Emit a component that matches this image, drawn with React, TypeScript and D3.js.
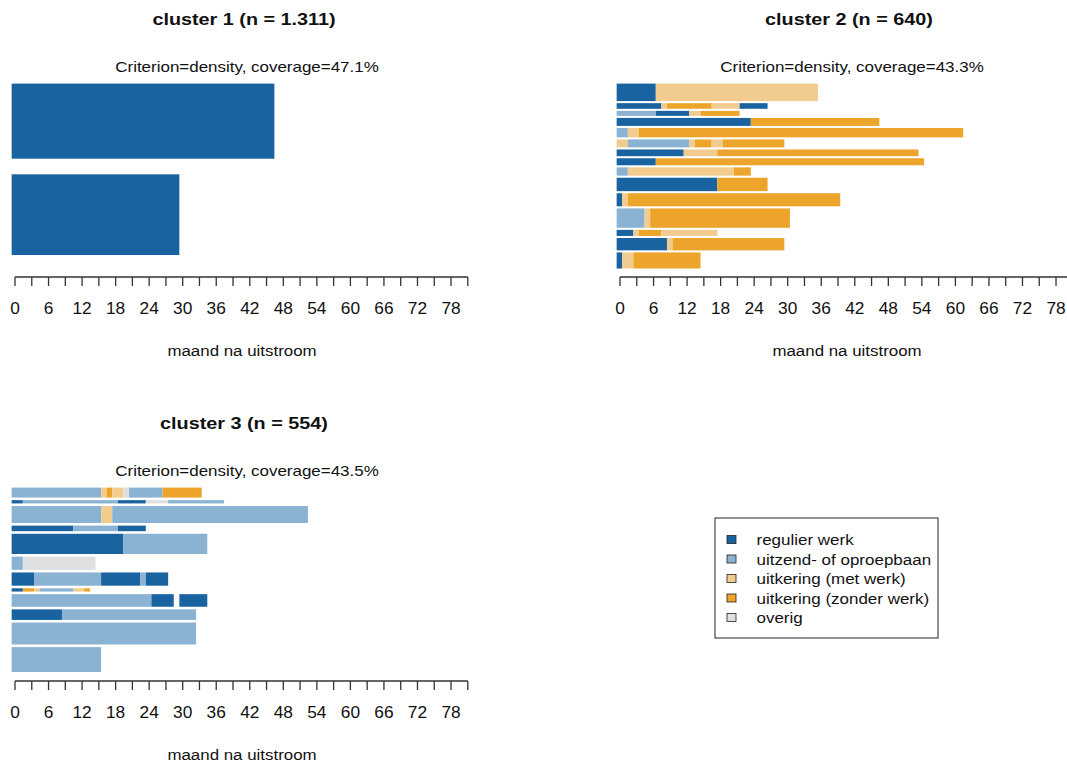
import React from "react";
import * as d3 from "d3";

// States
const states = [
  "regulier werk",
  "uitzend- of oproepbaan",
  "uitkering (met werk)",
  "uitkering (zonder werk)",
  "overig",
];
const stateColors = ["#1A63A1", "#8AB2D3", "#F2CB8F", "#ECA42A", "#DFDFDF"];

// Tick labels (months)
const tickMonths = d3.range(0, 82, 3);
const labelMonths = d3.range(0, 79, 6);

// Representative sequences: [stateIndex, durationMonths] spells (-1 = missing)
// listed top to bottom; weights = share of the cluster represented
const cluster1Seqs: [number, number][][] = [
  [[0, 47]],
  [[0, 30]],
];
const cluster1Weights = [48.2, 51.8];

const cluster2Seqs: [number, number][][] = [
  [[0, 7], [2, 29]],
  [[0, 8], [2, 1], [3, 8], [2, 5], [0, 5]],
  [[1, 7], [0, 6], [2, 2], [3, 7]],
  [[0, 24], [3, 23]],
  [[1, 2], [2, 2], [3, 58]],
  [[2, 2], [1, 11], [2, 1], [3, 3], [2, 2], [3, 11]],
  [[0, 12], [2, 6], [3, 36]],
  [[0, 7], [3, 48]],
  [[1, 2], [2, 19], [3, 3]],
  [[0, 18], [3, 9]],
  [[0, 1], [2, 1], [3, 38]],
  [[1, 5], [2, 1], [3, 25]],
  [[0, 3], [2, 1], [3, 4], [2, 10]],
  [[0, 9], [2, 1], [3, 20]],
  [[0, 1], [2, 2], [3, 12]],
];
const cluster2Weights = [11.2, 3.6, 3.2, 5.1, 6.0, 5.1, 4.3, 4.5, 5.3, 8.6, 8.4, 12.4, 3.9, 7.9, 10.3];

const cluster3Seqs: [number, number][][] = [
  [[1, 16], [2, 1], [3, 1], [2, 2], [4, 1], [1, 6], [3, 7]],
  [[0, 2], [1, 17], [0, 5], [4, 4], [1, 10]],
  [[1, 16], [2, 2], [1, 35]],
  [[0, 11], [1, 8], [0, 5]],
  [[0, 20], [1, 15]],
  [[1, 2], [4, 13]],
  [[0, 4], [1, 12], [0, 7], [1, 1], [0, 4]],
  [[0, 2], [3, 2], [2, 1], [1, 6], [2, 2], [3, 1]],
  [[1, 25], [0, 4], [-1, 1], [0, 5]],
  [[0, 9], [1, 24]],
  [[1, 33]],
  [[1, 16]],
];
const cluster3Weights = [6.4, 2.1, 10.9, 3.6, 13.0, 8.5, 8.5, 2.1, 8.1, 6.8, 14.1, 16.0];

const panels = [
  { title: "cluster 1 (n = 1.311)", sub: "Criterion=density, coverage=47.1%", seqs: cluster1Seqs, weights: cluster1Weights, col: 0, row: 0 },
  { title: "cluster 2 (n = 640)", sub: "Criterion=density, coverage=43.3%", seqs: cluster2Seqs, weights: cluster2Weights, col: 1, row: 0 },
  { title: "cluster 3 (n = 554)", sub: "Criterion=density, coverage=43.5%", seqs: cluster3Seqs, weights: cluster3Weights, col: 0, row: 1 },
];

const FONT = "'Liberation Sans', Arial, Helvetica, sans-serif";

function SText(props: { x: number; y: number; sx: number; size: number; bold?: boolean; anchor?: string; children: React.ReactNode }) {
  const { x, y, sx, size, bold, anchor, children } = props;
  return (
    <text
      transform={`translate(${x},${y}) scale(${sx},1)`}
      fontSize={size}
      fontWeight={bold ? "bold" : "normal"}
      fontFamily={FONT}
      textAnchor={anchor || "middle"}
      fill="#111"
    >
      {children}
    </text>
  );
}

const PX_PER_MONTH = 5.59;
const BAR_OFFSET = 0.6; // tick for month m sits at bar position m + offset

function Panel({ p }: { p: typeof panels[number] }) {
  const ox = p.col * 605;
  const oy = p.row * 404;
  const tick0 = 15 + ox;
  const x = d3.scaleLinear().domain([0, 81]).range([tick0 - BAR_OFFSET * PX_PER_MONTH, tick0 + (81 - BAR_OFFSET) * PX_PER_MONTH]);
  const xt = (m: number) => x(m + BAR_OFFSET);

  const n = p.weights.length;
  const sum = d3.sum(p.weights);
  const space = 0.2 * (sum / n);
  const total = sum + n * space;
  const y = d3.scaleLinear().domain([0, total]).range([270.6 + oy, 83.6 + oy]);

  // bars listed top->bottom; R stacks from bottom
  const bars: { y0: number; y1: number; seq: [number, number][] }[] = [];
  let acc = 0;
  for (let j = n - 1; j >= 0; j--) {
    acc += space;
    const b = acc;
    acc += p.weights[j];
    bars.push({ y0: y(b), y1: y(acc), seq: p.seqs[j] });
  }

  const axisY = 277 + oy;
  const cx = 245 + ox;

  return (
    <g>
      <SText x={cx - 1} y={25 + oy} sx={1.2} size={16.5} bold>{p.title}</SText>
      <SText x={cx + 2} y={72 + oy} sx={1.17} size={14.5}>{p.sub}</SText>
      {bars.map((b, i) => {
        let pos = 0;
        return (
          <g key={i}>
            {b.seq.map(([s, d], k) => {
              const start = pos;
              pos += d;
              if (s < 0) return null;
              return (
                <rect
                  key={k}
                  x={x(start)}
                  y={b.y1}
                  width={x(start + d) - x(start)}
                  height={b.y0 - b.y1}
                  fill={stateColors[s]}
                />
              );
            })}
          </g>
        );
      })}
      <line x1={xt(0)} x2={xt(81)} y1={axisY} y2={axisY} stroke="#333" strokeWidth={1.3} />
      {tickMonths.map((m) => (
        <line key={m} x1={xt(m)} x2={xt(m)} y1={axisY} y2={axisY + 9} stroke="#333" strokeWidth={1.3} />
      ))}
      {labelMonths.map((m) => (
        <SText key={m} x={xt(m)} y={313.5 + oy} sx={1.05} size={16.5}>{m}</SText>
      ))}
      <SText x={cx - 3} y={355.5 + oy} sx={1.09} size={15.5}>maand na uitstroom</SText>
    </g>
  );
}

function Legend() {
  const lx = 715;
  const ly = 518;
  const rowY = d3.scaleLinear().domain([0, 4]).range([539.5, 617.5]);
  return (
    <g>
      <rect x={lx} y={ly} width={223} height={120} fill="white" stroke="#222" strokeWidth={1} />
      {states.map((s, i) => (
        <g key={s}>
          <rect x={727} y={rowY(i) - 4} width={9} height={8} fill={stateColors[i]} stroke="#222" strokeWidth={0.8} />
          <SText x={756.5} y={rowY(i) + 5.5} sx={1.11} size={15.3} anchor="start">{s}</SText>
        </g>
      ))}
    </g>
  );
}

export default function App() {
  return (
    <svg
      width={1067}
      height={763}
      style={{ position: "absolute", left: 0, top: 0, background: "white" }}
    >
      <rect x={0} y={0} width={1067} height={763} fill="white" />
      {panels.map((p, i) => (
        <Panel key={i} p={p} />
      ))}
      <Legend />
    </svg>
  );
}
